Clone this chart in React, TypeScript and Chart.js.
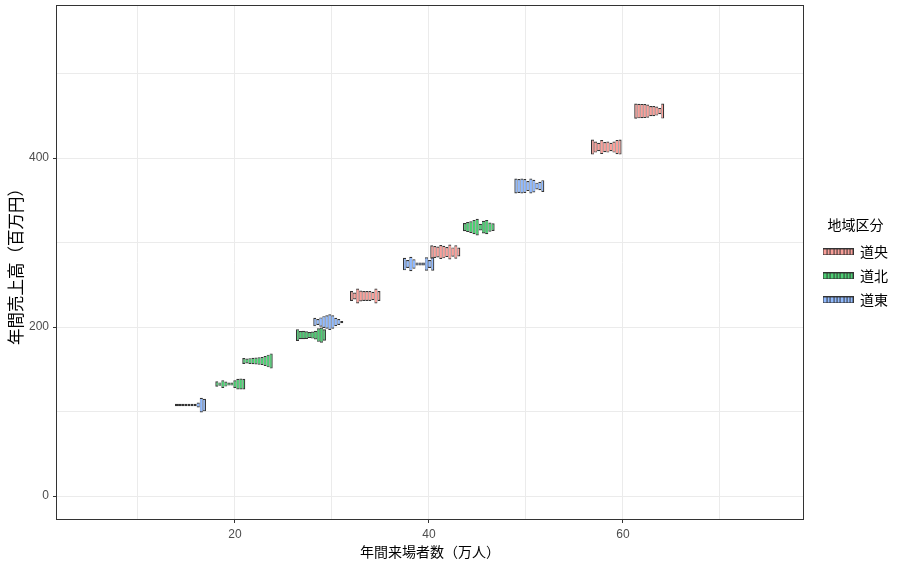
import React, { useEffect, useRef } from 'react';
import { Chart, registerables } from 'chart.js';

Chart.register(...registerables);

// ---- data ----
const regions = ['道央', '道北', '道東'];
const regionFill = ['rgba(248,118,109,0.7)', 'rgba(0,186,56,0.7)', 'rgba(97,156,255,0.7)'];

const groupRegion = ['道東', '道北', '道北', '道北', '道東', '道央', '道東', '道央', '道北', '道東', '道央', '道央'];
// centre of each group on the sales axis (百万円)
const groupCenter = [107.7, 132.5, 159.8, 190.5, 205.9, 236.7, 274.6, 288.8, 318.3, 366.9, 413.0, 455.6];
// visitors range covered by each group (万人)
const groupXStart = [13.81, 17.97, 20.75, 26.29, 28.07, 31.86, 37.32, 40.13, 43.5, 48.8, 56.7, 61.16];
const groupXEnd = [17.01, 21.06, 23.89, 29.38, 31.16, 35.0, 40.55, 43.23, 46.77, 51.89, 59.86, 64.25];
// half-height of each bin (in 百万円), left to right
const groupDensity = [
  [1.4, 1.4, 1.4, 1.4, 1.4, 1.4, 1.4, 3, 8.7, 7.5],
  [3.2, 2, 4.5, 3, 1.8, 1.8, 4.5, 6.3, 6.5, 6.3],
  [3.6, 3, 3.4, 3.8, 4.1, 4.5, 4.7, 5.9, 7.5, 9],
  [7, 4.8, 5, 4.5, 3.6, 4.2, 5.2, 8, 9, 6.8],
  [5.1, 3.5, 5.5, 7, 8, 9.3, 8, 5, 3.5, 1.4],
  [5.9, 4.1, 8.9, 6.5, 5.9, 5.9, 5.9, 5, 8.9, 5.9],
  [7.5, 4.7, 8.5, 5.5, 1.8, 1.8, 1.8, 8, 4.7, 8],
  [7.9, 7, 6.5, 8.2, 7.5, 6, 8.9, 5.5, 8, 5.3],
  [4.9, 5.9, 7, 8.5, 9.8, 4, 7.5, 8.5, 5.5, 4.6],
  [8.9, 8.3, 8.9, 8.3, 6, 8.9, 7.5, 4, 5, 7],
  [8.9, 6.5, 5, 8.3, 6, 6.5, 5, 6.5, 8.5, 8.9],
  [9, 8.6, 8.5, 8.3, 7.8, 6, 6, 5.3, 3.8, 8.9],
];

// grid positions and which of them carry a label
const xGridValues = [10, 20, 30, 40, 50, 60, 70];
const xLabelValues = [20, 40, 60];
const yGridValues = [0, 100, 200, 300, 400, 500];
const yLabelValues = [0, 200, 400];
const xTitle = '年間来場者数（万人）';
const yTitle = '年間売上高（百万円）';
const legendTitle = '地域区分';

// ---- layout constants ----
const X_MIN = 1.65;
const X_MAX = 78.56;
const Y_MIN = -27.2;
const Y_MAX = 580;
const W = 904;
const H = 569;
const JP = '"Noto Sans CJK JP", "Noto Sans", sans-serif';
const NUM = '"Liberation Sans", Arial, sans-serif';

function makeKey(fill: string): HTMLCanvasElement {
  const c = document.createElement('canvas');
  c.width = 31;
  c.height = 7;
  const g = c.getContext('2d')!;
  g.fillStyle = fill;
  g.fillRect(0.5, 0.5, 30, 6);
  g.strokeStyle = '#333333';
  g.lineWidth = 1;
  g.strokeRect(0.5, 0.5, 30, 6);
  for (let i = 1; i < 9; i++) {
    const x = Math.round(0.5 + (30 * i) / 9) + 0.5;
    g.beginPath();
    g.moveTo(x, 0.5);
    g.lineTo(x, 6.5);
    g.stroke();
  }
  return c;
}

const panelBorder = {
  id: 'panelBorder',
  afterDatasetsDraw(chart: any) {
    const { ctx, chartArea } = chart;
    ctx.save();
    ctx.strokeStyle = '#333333';
    ctx.lineWidth = 1;
    ctx.strokeRect(
      Math.round(chartArea.left) - 0.5,
      Math.round(chartArea.top) - 0.5,
      Math.round(chartArea.right - chartArea.left) + 1,
      Math.round(chartArea.bottom - chartArea.top) + 1
    );
    ctx.restore();
  },
};

const noPad = (s: any) => {
  s.paddingTop = 0;
  s.paddingBottom = 0;
  s.paddingLeft = 0;
  s.paddingRight = 0;
};

export default function App() {
  const ref = useRef<HTMLCanvasElement>(null);

  useEffect(() => {
    document.body.style.margin = '0';
    const canvas = ref.current!;

    const datasets: any[] = groupCenter.map((c, g) => {
      const dens = groupDensity[g];
      const n = dens.length;
      const w = (groupXEnd[g] - groupXStart[g]) / n;
      const fill = regionFill[regions.indexOf(groupRegion[g])];
      return {
        type: 'bar',
        label: groupRegion[g],
        xAxisID: 'xg' + g,
        yAxisID: 'y',
        data: dens.map((h, i) => ({ x: groupXStart[g] + (i + 0.5) * w, y: [c - h, c + h] })),
        backgroundColor: fill,
        borderColor: '#333333',
        borderWidth: (ctx: any) => ({
          top: 1.2,
          bottom: 1.2,
          left: ctx.dataIndex === 0 ? 1.2 : 0.5,
          right: ctx.dataIndex === n - 1 ? 1.2 : 0.5,
        }),
        borderSkipped: false,
        inflateAmount: 0,
        grouped: false,
        barPercentage: 1,
        categoryPercentage: 1,
      };
    });

    const scales: any = {
      x: {
        type: 'linear',
        position: 'bottom',
        min: X_MIN,
        max: X_MAX,
        offset: false,
        afterFit: (s: any) => {
          s.height = 50;
          noPad(s);
        },
        afterBuildTicks: (s: any) => {
          s.ticks = xGridValues.map((v) => ({ value: v }));
        },
        ticks: {
          autoSkip: false,
          maxRotation: 0,
          color: '#4D4D4D',
          padding: 4,
          font: { family: NUM, size: 12 },
          callback: (v: any) => (xLabelValues.includes(v) ? String(v) : ''),
        },
        grid: {
          offset: false,
          color: '#EBEBEB',
          lineWidth: 1,
          tickLength: 4,
          tickColor: (ctx: any) => (ctx.tick && xLabelValues.includes(ctx.tick.value) ? '#333333' : 'rgba(0,0,0,0)'),
        },
        border: { display: false },
        title: {
          display: true,
          text: xTitle,
          color: '#000000',
          font: { family: JP, size: 14 },
          padding: { top: 0, bottom: 9 },
        },
      },
      y: {
        type: 'linear',
        position: 'left',
        min: Y_MIN,
        max: Y_MAX,
        afterFit: (s: any) => {
          s.width = 57;
          noPad(s);
        },
        afterBuildTicks: (s: any) => {
          s.ticks = yGridValues.map((v) => ({ value: v }));
        },
        ticks: {
          autoSkip: false,
          color: '#4D4D4D',
          padding: 4,
          font: { family: NUM, size: 12 },
          callback: (v: any) => (yLabelValues.includes(v) ? String(v) : ''),
        },
        grid: {
          color: '#EBEBEB',
          lineWidth: 1,
          tickLength: 4,
          tickColor: (ctx: any) => (ctx.tick && yLabelValues.includes(ctx.tick.value) ? '#333333' : 'rgba(0,0,0,0)'),
        },
        border: { display: false },
        title: {
          display: true,
          text: yTitle,
          color: '#000000',
          font: { family: JP, size: 16.5 },
          padding: { top: 6, bottom: 0 },
        },
      },
      yspacer: {
        type: 'linear',
        position: 'right',
        display: true,
        afterFit: (s: any) => {
          s.width = 10;
          noPad(s);
        },
        ticks: { display: false },
        grid: { display: false, drawTicks: false },
        border: { display: false },
      },
    };
    groupCenter.forEach((_, g) => {
      scales['xg' + g] = {
        type: 'linear',
        display: false,
        min: X_MIN,
        max: X_MAX,
        offset: false,
        grid: { offset: false },
      };
    });

    const keys = regionFill.map(makeKey);

    const chart = new Chart(canvas, {
      type: 'bar',
      data: { datasets },
      options: {
        responsive: false,
        animation: false,
        layout: { padding: { top: 6, right: 6, bottom: 0, left: 0 } },
        scales,
        plugins: {
          tooltip: { enabled: false },
          legend: {
            position: 'right',
            fullSize: false,
            align: 'center',
            onClick: () => {},
            title: {
              display: true,
              text: legendTitle,
              color: '#000000',
              position: 'center',
              font: { family: JP, size: 14 },
              padding: { top: 10, bottom: 0 },
            },
            labels: {
              usePointStyle: true,
              pointStyleWidth: 30,
              padding: 10,
              color: '#000000',
              font: { family: JP, size: 14 },
              generateLabels: () =>
                regions.map((r, i) => ({
                  text: r,
                  pointStyle: keys[i],
                  fillStyle: regionFill[i],
                  strokeStyle: '#333333',
                  lineWidth: 1,
                  hidden: false,
                  fontColor: '#000000',
                })),
            },
          },
        },
      } as any,
      plugins: [panelBorder],
    } as any);

    return () => chart.destroy();
  }, []);

  return (
    <div style={{ width: W, height: H, position: 'relative', background: '#ffffff' }}>
      <canvas ref={ref} width={W} height={H} style={{ width: W, height: H, display: 'block' }} />
    </div>
  );
}
